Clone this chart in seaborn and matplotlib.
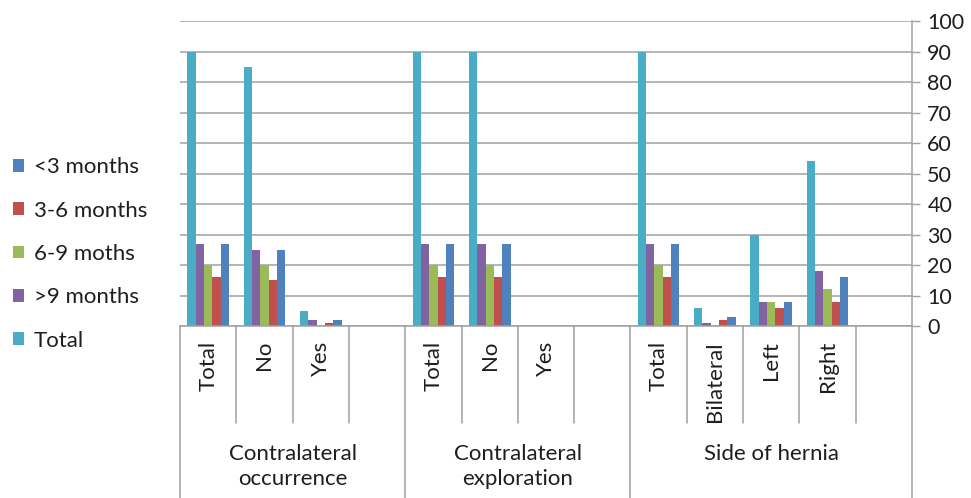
import numpy as np
import pandas as pd
import matplotlib
matplotlib.use("Agg")
import matplotlib.pyplot as plt
import matplotlib.transforms as mtransforms
from matplotlib.patches import Patch
import seaborn as sns

# Category hierarchy: outer groups and the sub-categories inside each
groups = ["Contralateral\noccurrence", "Contralateral\nexploration", "Side of hernia"]
group_levels = [
    ["Total", "No", "Yes"],
    ["Total", "No", "Yes"],
    ["Total", "Bilateral", "Left", "Right"],
]

# Series (left-to-right order of the bars in each cluster) and colours
series = ["Total", ">9 months", "6-9 moths", "3-6 months", "<3 months"]
colors = ["#4BACC6", "#8064A2", "#9BBB59", "#C0504D", "#4F81BD"]

# Values per sub-category, in the flattened order of group_levels
total_vals = [90, 85, 5, 90, 90, 0, 90, 6, 30, 54]
gt9_vals = [27, 25, 2, 27, 27, 0, 27, 1, 8, 18]
m69_vals = [20, 20, 0, 20, 20, 0, 20, 0, 8, 12]
m36_vals = [16, 15, 1, 16, 16, 0, 16, 2, 6, 8]
lt3_vals = [27, 25, 2, 27, 27, 0, 27, 3, 8, 16]

series_vals = [total_vals, gt9_vals, m69_vals, m36_vals, lt3_vals]

# Slot keys: every group keeps one trailing empty slot
slot_order, slot_labels, data_slots = [], [], []
for gi, levels in enumerate(group_levels):
    for lvl in levels:
        key = f"{gi}|{lvl}"
        slot_order.append(key)
        slot_labels.append(lvl)
        data_slots.append(key)
    slot_order.append(f"{gi}|")
    slot_labels.append("")

rows = []
for s, vals in zip(series, series_vals):
    for key, v in zip(data_slots, vals):
        rows.append({"slot": key, "series": s, "value": v})
df = pd.DataFrame(rows)

sns.set_style("white")
plt.rcParams["font.family"] = ["Lato", "DejaVu Sans"]
text_color = "#1e1e1e"
line_color = "#a0a0a0"
fs = 16

fig = plt.figure(figsize=(9.71, 4.98), dpi=100)
ax = fig.add_axes([0.18538, 0.34538, 0.75386, 0.61245])

sns.barplot(data=df, x="slot", y="value", hue="series", order=slot_order,
            hue_order=series, palette=colors, width=0.74, gap=0,
            saturation=1, errorbar=None, legend=False, linewidth=0, ax=ax)

n = len(slot_order)
ax.set_xlim(-0.5, n - 0.5)
ax.set_ylim(0, 100)
ax.set_yticks(np.arange(0, 101, 10))
ax.yaxis.tick_right()
ax.yaxis.set_label_position("right")
ax.tick_params(axis="y", direction="out", length=6, width=1, color=line_color,
               pad=5, labelsize=15.5, labelcolor=text_color)
ax.set_xticks([])
ax.set_xlabel("")
ax.set_ylabel("")
ax.grid(axis="y", color=line_color, linewidth=1.1)
ax.grid(axis="x", visible=False)
ax.set_axisbelow(True)
for side in ["top", "left"]:
    ax.spines[side].set_visible(False)
for side in ["right", "bottom"]:
    ax.spines[side].set_color(line_color)
    ax.spines[side].set_linewidth(1.1)

# Multi-level category axis below the plot
trans = mtransforms.blended_transform_factory(ax.transData, fig.transFigure)
y_axis = 1 - 326 / 498
y_lvl1 = 1 - 423 / 498
pos = 0
for gi, levels in enumerate(group_levels):
    width = len(levels) + 1
    left = pos - 0.5
    ax.plot([left, left], [y_axis, 0], color=line_color, lw=1.1,
            transform=trans, clip_on=False)
    for k in range(1, width):
        ax.plot([left + k, left + k], [y_axis, y_lvl1], color=line_color,
                lw=1.1, transform=trans, clip_on=False)
    ax.text(left + width / 2, 1 - 444 / 498, groups[gi], transform=trans,
            ha="center", va="top", fontsize=fs, color=text_color,
            linespacing=1.3, multialignment="center")
    pos += width
ax.plot([n - 0.5, n - 0.5], [y_axis, 0], color=line_color, lw=1.1,
        transform=trans, clip_on=False)

for i, lab in enumerate(slot_labels):
    if lab:
        ax.text(i, 1 - 341 / 498, lab, transform=trans, rotation=90,
                ha="center", va="top", fontsize=fs, color=text_color)

# Legend, listed in reverse of the bar order
handles = [Patch(facecolor=c, edgecolor="none") for c in colors[::-1]]
fig.legend(handles, series[::-1], loc="center left",
           bbox_to_anchor=(13 / 971, 1 - 254 / 498), frameon=False,
           handlelength=0.5, handleheight=0.5, handletextpad=0.45,
           labelspacing=1.05, fontsize=fs, borderpad=0, borderaxespad=0,
           labelcolor=text_color)

fig.savefig("out.png", dpi=100)
